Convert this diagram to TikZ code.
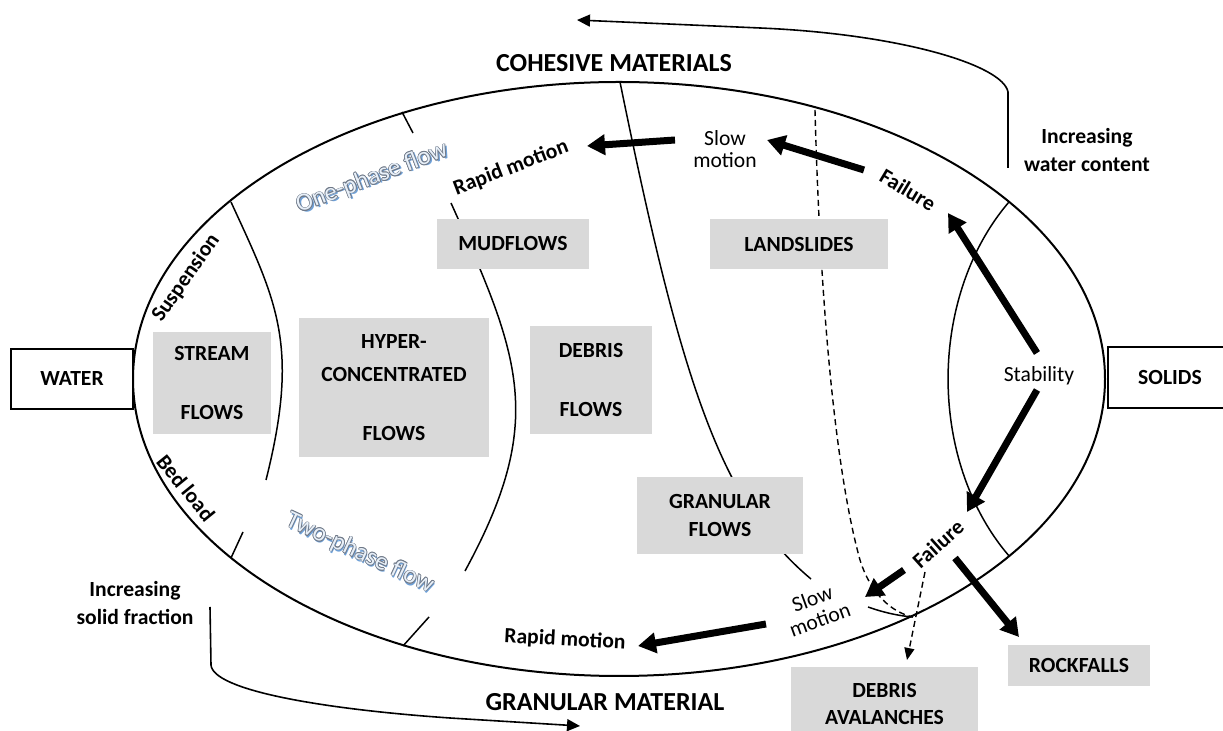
\documentclass[tikz,border=0pt]{standalone}
\usepackage{fontspec}
\setmainfont{Carlito}
\usetikzlibrary{arrows.meta}
\definecolor{boxgray}{RGB}{217,217,217}
\definecolor{washadow}{RGB}{110,160,215}
\definecolor{waline}{RGB}{110,120,135}
\definecolor{wafill}{RGB}{232,240,249}
\begin{document}
\begin{tikzpicture}[x=0.5pt,y=-0.5pt,
  lbl/.style={font=\fontsize{10.8}{14}\selectfont, inner sep=0pt, align=center},
  blbl/.style={font=\bfseries\fontsize{10.8}{14}\selectfont, inner sep=0pt, align=center},
  slbl/.style={font=\fontsize{10.8}{11}\selectfont, inner sep=0pt, align=center},
  title/.style={font=\bfseries\fontsize{13}{15}\selectfont, inner sep=0pt},
  graybox/.style={fill=boxgray, draw=none, align=center, inner sep=0pt, font=\bfseries\fontsize{10.8}{15}\selectfont},
  endbox/.style={draw=black, line width=1pt, fill=white, inner sep=0pt, font=\bfseries\fontsize{10.8}{14}\selectfont},
  bound/.style={line width=0.75pt},
  bigarrow/.style={line width=3.5pt, -{Triangle[length=9pt,width=10pt]}},
  longarrow/.style={line width=0.8pt, -{Triangle[length=6.5pt,width=6pt]}},
  dashline/.style={line width=0.7pt, dash pattern=on 3pt off 2pt},
  dasharrow/.style={dashline, -{Triangle[length=6pt,width=5pt]}},
  wa/.style={font=\fontsize{12.5}{14}\selectfont, inner sep=0pt},
]
\useasboundingbox (0,0) rectangle (1223,731);

% main ellipse
\draw[line width=1pt] (619,379) ellipse [x radius=486, y radius=297];
% left boundary
\draw[bound] (231,202) .. controls (277,302) and (300,345) .. (266,480);
\draw[bound] (243,532) -- (231,558);
% middle boundary
\draw[bound] (402,112) -- (413,133);
\draw[bound] (451,203) .. controls (520.7,357.7) and (546.6,421.4) .. (465,571);
\draw[bound] (429,617) -- (403,646);
% third boundary
\draw[bound] (620,82) .. controls (680,376) and (719,502) .. (811,579);
\draw[bound] (868,607) .. controls (885,613) and (900,616) .. (913,617);
% right inner arc
\draw[bound] (1009,202) arc[start angle=228.3, end angle=131.7, x radius=182, y radius=237];
% dashed boundary
\draw[dashline] (815,110) .. controls (820,300) and (835,470) .. (860,560) .. controls (870,592) and (890,612) .. (913,617);

% boxes
\node[graybox, minimum width=76pt, minimum height=25pt] (mud) at (513,244) {MUDFLOWS};
\node[graybox, minimum width=89pt, minimum height=25pt] (land) at (799,244) {LANDSLIDES};
\node[graybox, minimum width=59pt, minimum height=51pt] (stream) at (212,383) {STREAM\\[14.5pt]FLOWS};
\node[graybox, minimum width=95pt, minimum height=69.5pt] (hyper) at (394,388) {HYPER-\\[1.5pt]CONCENTRATED\\[14.5pt]FLOWS};
\node[graybox, minimum width=61pt, minimum height=54pt] (debris) at (591,380) {DEBRIS\\[14.5pt]FLOWS};
\node[graybox, minimum width=83pt, minimum height=38.5pt] (gran) at (720,515.5) {GRANULAR\\[-1pt]FLOWS};
\node[graybox, minimum width=71pt, minimum height=20.5pt] (rock) at (1079,665.5) {ROCKFALLS};
\node[graybox, minimum width=93.5pt, minimum height=36.5pt] (aval) at (884.5,703.5) {DEBRIS\\[-1.5pt]AVALANCHES};
\node[endbox, minimum width=61pt, minimum height=30pt] (water) at (72,379) {WATER};
\node[endbox, minimum width=62pt, minimum height=30.5pt] (solids) at (1170,377.5) {SOLIDS};

% titles and labels
\node[title] (coh) at (614,63) {COHESIVE MATERIALS};
\node[title] (granmat) at (605,702) {GRANULAR MATERIAL};
\node[blbl, rotate=55] (susp) at (186,278) {Suspension};
\node[blbl, rotate=-51] (bed) at (186,488) {Bed load};
\node[blbl, rotate=21] (rapid1) at (511,168) {Rapid motion};
\node[slbl] (slow1) at (725,149) {Slow\\motion};
\node[blbl, rotate=-31] (fail1) at (908,190) {Failure};
\node[blbl] (incw) at (1087,150) {Increasing\\water content};
\node[lbl] (stab) at (1039,376) {Stability};
\node[blbl, rotate=42] (fail2) at (938,544) {Failure};
\node[slbl, rotate=20] (slow2) at (816,609) {Slow\\motion};
\node[blbl, rotate=-3] (rapid2) at (565,640) {Rapid motion};
\node[blbl] (incs) at (135,603) {Increasing\\solid fraction};

% word-art labels: blue shadow, grey outline, pale fill
\node[wa, text=washadow, rotate=21, xshift=0.8pt, yshift=-0.9pt] (ones) at (372,178) {One-phase flow};
\node[wa, text=washadow, rotate=-25, xshift=0.8pt, yshift=-0.9pt] (twos) at (360,553) {Two-phase flow};
\foreach \dx/\dy [count=\i] in {0.35/0,-0.35/0,0/0.35,0/-0.35,0.25/0.25,-0.25/0.25,0.25/-0.25,-0.25/-0.25}{
  \node[wa, text=waline, rotate=21, xshift=\dx pt, yshift=\dy pt] (onel\i) at (372,178) {One-phase flow};
  \node[wa, text=waline, rotate=-25, xshift=\dx pt, yshift=\dy pt] (twol\i) at (360,553) {Two-phase flow};
}
\node[wa, text=wafill, rotate=21] (one) at (372,178) {One-phase flow};
\node[wa, text=wafill, rotate=-25] (two) at (360,553) {Two-phase flow};

% arrow end points
\coordinate (a1s) at (675,140); \coordinate (a1e) at (587,146);
\coordinate (a2s) at (864,170); \coordinate (a2e) at (767,140);
\coordinate (a3s) at (1037,353); \coordinate (a3e) at (948,213);
\coordinate (a4s) at (1037,390); \coordinate (a4e) at (967,512);
\coordinate (a5s) at (904,570); \coordinate (a5e) at (865,597);
\coordinate (a6s) at (766,624); \coordinate (a6e) at (638,646);
\coordinate (a7s) at (955,558); \coordinate (a7e) at (1019,637);
\coordinate (d2s) at (925,572); \coordinate (d2e) at (907,660);
\coordinate (w1) at (1008,168); \coordinate (w2) at (577,20);
\coordinate (s1) at (210,607); \coordinate (s2) at (580,726);

% thick arrows
\draw[bigarrow] (a1s) -- (a1e);
\draw[bigarrow] (a2s) -- (a2e);
\draw[bigarrow] (a3s) -- (a3e);
\draw[bigarrow] (a4s) -- (a4e);
\draw[bigarrow] (a5s) -- (a5e);
\draw[bigarrow] (a6s) -- (a6e);
\draw[bigarrow] (a7s) -- (a7e);
% dashed arrow to debris avalanches
\draw[dasharrow] (d2s) -- (d2e);
% long curved arrows
\draw[longarrow] (w1) -- (1008,92) .. controls (1003,65) and (900,34) .. (760,28) -- (w2);
\draw[longarrow] (s1) -- (211,665) .. controls (213,690) and (320,709) .. (450,718) -- (s2);
\end{tikzpicture}
\end{document}
